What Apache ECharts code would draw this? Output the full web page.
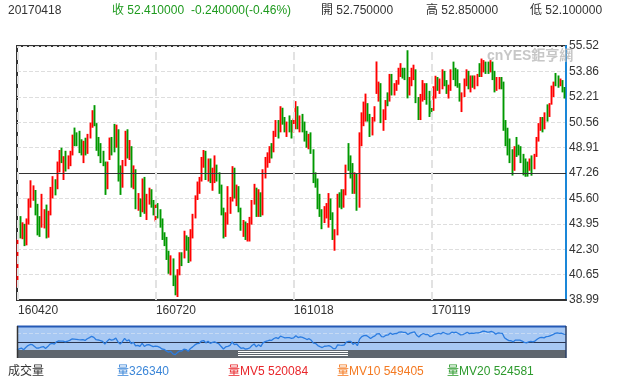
<!DOCTYPE html>
<html><head><meta charset="utf-8">
<script src="https://cdn.jsdelivr.net/npm/echarts@6/dist/echarts.min.js"></script>
<style>html,body{margin:0;padding:0;background:#fff}#c{width:619px;height:377px}</style>
</head><body><div id="c"></div><script>
// Trading days (category axis)
const dates = [
'160420','160421','160422','160425','160426','160427','160428','160429',
'160502','160503','160504','160505','160506','160509','160510','160511','160512','160513','160516','160517','160518','160519','160520','160523','160524','160525','160526','160527','160531',
'160601','160602','160603','160606','160607','160608','160609','160610','160613','160614','160615','160616','160617','160620','160621','160622','160623','160624','160627','160628','160629','160630',
'160701','160705','160706','160707','160708','160711','160712','160713','160714','160715','160718','160719','160720','160721','160722','160725','160726','160727','160728','160729',
'160801','160802','160803','160804','160805','160808','160809','160810','160811','160812','160815','160816','160817','160818','160819','160822','160823','160824','160825','160826','160829','160830','160831',
'160901','160902','160906','160907','160908','160909','160912','160913','160914','160915','160916','160919','160920','160921','160922','160923','160926','160927','160928','160929','160930',
'161003','161004','161005','161006','161007','161010','161011','161012','161013','161014','161017','161018','161019','161020','161021','161024','161025','161026','161027','161028','161031',
'161101','161102','161103','161104','161107','161108','161109','161110','161111','161114','161115','161116','161117','161118','161121','161122','161123','161125','161128','161129','161130',
'161201','161202','161205','161206','161207','161208','161209','161212','161213','161214','161215','161216','161219','161220','161221','161222','161223','161227','161228','161229','161230',
'170103','170104','170105','170106','170109','170110','170111','170112','170113','170117','170118','170119','170120','170123','170124','170125','170126','170127','170130','170131',
'170201','170202','170203','170206','170207','170208','170209','170210','170213','170214','170215','170216','170217','170221','170222','170223','170224','170227','170228',
'170301','170302','170303','170306','170307','170308','170309','170310','170313','170314','170315','170316','170317','170320','170321','170322','170323','170324','170327','170328','170329','170330','170331',
'170403','170404','170405','170406','170407','170410','170411','170412','170413','170417','170418'
];
// Daily candles: [open, close, low, high]
const candles = [
[40.10,42.63,39.83,42.97],[44.10,43.18,43.00,44.45],[43.25,43.73,42.95,44.05],[43.60,42.64,42.50,43.95],[42.70,44.04,42.55,44.30],[44.10,45.33,43.90,45.60],[45.20,46.03,45.00,46.78],[45.80,45.92,45.45,46.45],
[45.90,44.78,44.50,46.15],[44.70,43.65,43.20,45.25],[44.05,43.78,43.10,44.45],[43.85,44.32,43.70,45.90],[44.20,44.66,43.65,44.90],[44.60,43.44,43.00,45.20],[43.50,44.66,43.05,44.80],[44.70,46.23,44.50,46.35],[46.20,46.70,45.60,47.05],[46.80,46.21,45.80,46.85],[46.40,47.72,46.20,48.00],[47.75,48.31,47.30,48.75],[48.50,48.19,47.90,48.90],[47.70,48.16,46.80,48.35],[48.10,47.75,47.35,48.70],[47.80,48.08,47.50,48.40],[48.10,48.62,47.70,48.70],[48.60,49.56,48.40,49.75],[49.60,49.48,49.00,50.21],[49.50,49.33,49.00,49.90],[49.40,49.10,48.55,50.00],
[49.10,49.01,48.40,49.45],[48.90,49.17,47.90,49.35],[49.20,48.62,48.40,49.55],[48.70,49.69,48.50,49.80],[49.70,50.36,49.50,50.53],[50.50,51.23,50.20,51.34],[51.20,50.56,50.30,51.67],[50.40,49.07,48.70,50.50],[49.10,48.88,48.35,49.60],[48.70,48.49,47.90,49.20],[48.50,48.01,47.70,48.70],[47.80,46.21,45.83,48.00],[46.30,47.98,46.20,48.00],[48.20,49.37,48.10,49.56],[49.20,48.85,48.40,49.60],[49.90,49.13,48.60,50.45],[49.20,50.11,48.90,50.40],[50.00,47.64,46.70,50.10],[47.50,46.33,45.83,47.75],[46.40,47.85,46.30,48.10],[47.90,49.88,47.70,50.00],[49.80,48.33,48.20,50.10],
[48.40,48.99,48.10,49.40],[48.90,46.60,46.30,49.00],[46.60,47.43,46.20,47.75],[47.40,45.14,44.90,47.50],[45.20,45.41,44.80,45.95],[45.30,44.76,44.40,45.60],[44.80,46.80,44.70,46.90],[46.70,44.75,44.60,47.00],[44.80,45.68,44.20,45.90],[45.70,45.95,45.20,46.30],[45.90,45.24,45.00,46.20],[45.30,44.65,44.50,45.50],[44.60,44.94,44.10,45.20],[44.90,44.75,44.30,45.30],[44.80,44.19,43.70,44.90],[44.20,43.13,42.90,44.30],[43.20,42.92,42.50,43.40],[42.90,41.92,41.60,43.10],[41.90,41.14,40.70,42.20],[41.10,41.60,40.60,41.90],
[41.50,40.06,39.90,41.70],[40.10,39.51,39.30,40.60],[39.50,40.83,39.19,41.00],[40.80,41.93,40.60,42.10],[41.90,41.80,41.20,42.10],[41.90,43.02,41.70,43.50],[43.00,42.77,42.20,43.20],[42.80,41.71,41.40,43.10],[41.80,43.49,41.50,43.60],[43.40,44.49,43.00,44.60],[44.50,45.74,44.30,45.80],[45.70,46.58,45.50,46.70],[46.50,46.79,45.90,47.00],[46.80,48.22,46.70,48.30],[48.10,48.52,47.60,48.75],[48.50,47.05,46.80,48.70],[47.10,48.10,46.70,48.20],[48.00,46.77,46.60,48.20],[46.80,47.33,46.10,47.60],[47.30,47.64,46.60,48.40],[47.60,46.98,46.70,47.80],[47.00,46.35,45.90,47.30],[46.40,44.70,44.50,46.50],
[44.70,43.16,43.00,45.00],[43.20,44.44,43.10,44.70],[44.50,44.83,43.90,46.40],[44.90,45.50,44.60,45.70],[45.60,47.62,45.40,47.70],[47.50,45.88,45.60,47.60],[45.90,46.29,45.10,46.50],[46.30,44.90,44.70,46.40],[44.90,43.58,43.50,45.00],[43.60,43.91,43.10,44.20],[43.90,43.03,42.90,44.10],[43.10,43.30,42.80,44.00],[43.40,43.85,42.80,44.40],[44.00,45.34,43.90,45.50],[45.40,46.32,45.20,46.55],[46.20,44.48,44.40,46.30],[44.50,45.93,44.40,46.20],[45.90,44.67,44.40,46.00],[44.70,47.05,44.50,47.50],[47.10,47.83,46.90,48.30],[47.80,48.24,47.60,48.60],
[48.20,48.81,47.90,49.00],[48.80,48.69,48.20,49.20],[48.70,49.83,48.60,50.00],[49.80,50.44,49.60,50.70],[50.40,49.81,49.50,50.70],[50.00,51.35,49.90,51.60],[51.30,50.79,50.40,51.50],[50.80,50.18,49.90,50.90],[50.10,50.44,49.60,50.60],[50.50,50.35,49.90,51.00],[50.30,49.94,49.50,50.70],[50.00,50.29,49.90,50.80],[50.30,51.60,50.10,51.93],[51.50,50.43,50.10,51.60],[50.40,50.85,49.90,51.00],[50.90,50.52,49.90,51.10],[50.50,49.96,49.30,50.60],[49.90,49.18,48.90,50.00],[49.20,49.72,48.80,49.80],[49.70,48.70,48.50,49.90],[48.70,46.86,46.60,48.80],
[46.80,46.67,46.30,47.30],[46.60,45.34,44.90,46.90],[45.30,44.66,44.40,45.90],[44.70,44.07,43.60,44.90],[44.20,44.89,44.00,45.10],[44.90,44.98,44.30,45.30],[44.90,45.27,43.70,45.95],[45.30,44.66,44.20,45.60],[44.60,43.41,42.90,44.70],[43.20,43.32,42.20,43.60],[43.30,45.81,43.20,45.90],[45.80,45.57,45.00,46.00],[45.60,45.42,44.90,46.20],[45.40,45.69,45.00,46.20],[45.90,47.49,45.80,47.80],[48.40,48.03,47.40,49.20],[48.30,47.96,46.90,48.40],[47.80,46.06,45.90,47.90],[46.10,47.08,45.90,47.30],[47.00,45.23,44.80,47.20],[45.30,49.44,45.00,49.90],
[49.40,51.06,49.00,51.20],[51.00,51.68,50.30,51.90],[51.30,51.79,50.60,52.42],[51.70,50.93,50.60,51.80],[50.90,49.77,49.60,51.10],[49.80,50.84,49.70,50.90],[50.90,51.50,50.60,51.60],[52.60,52.83,52.40,54.51],[52.80,52.98,51.90,53.20],[53.00,51.04,50.50,53.10],[50.30,50.90,50.00,51.40],[50.90,51.90,50.70,52.00],[52.20,52.12,51.60,52.50],[52.20,53.30,51.90,53.70],[53.40,52.49,52.30,53.70],[52.50,52.95,52.30,53.10],[52.90,53.02,52.60,53.30],[53.10,53.90,53.00,54.10],[53.90,54.06,53.50,54.40],[54.00,53.77,53.40,54.10],[53.80,53.72,53.30,54.10],
[54.20,52.33,52.11,55.24],[52.40,53.26,52.30,53.50],[53.30,53.76,52.90,54.10],[53.70,53.99,53.30,54.30],[53.90,51.96,51.80,54.00],[52.00,50.82,50.70,52.20],[50.90,52.25,50.70,52.40],[52.30,53.01,51.90,53.30],[52.20,52.37,52.00,53.10],[52.90,52.48,51.70,53.10],[52.50,51.08,50.90,52.60],[51.75,51.37,51.10,51.95],[51.40,52.42,51.30,52.90],[52.40,52.75,52.10,53.58],[53.40,53.18,52.60,53.50],[52.60,52.75,52.40,53.40],[52.80,53.78,52.70,54.00],[53.80,53.17,52.90,53.90],[53.20,52.63,52.40,53.30],[52.60,52.81,52.10,53.00],
[52.80,53.88,52.60,54.00],[54.20,53.54,53.30,54.50],[54.00,53.83,52.90,54.10],[53.80,53.01,52.80,54.00],[53.00,52.17,51.90,53.10],[52.10,52.34,51.22,52.50],[52.40,53.00,52.20,53.40],[53.00,53.86,52.90,54.00],[53.80,52.93,52.70,53.90],[52.90,53.20,52.50,53.60],[53.30,53.11,52.80,53.60],[53.10,53.36,52.70,53.60],[53.30,53.40,52.90,53.70],[54.30,53.70,53.50,54.40],[53.60,54.45,53.50,54.70],[53.90,54.45,53.80,54.60],[54.40,53.99,53.70,54.50],[54.40,53.95,53.70,54.50],[53.90,54.40,53.80,54.60],
[54.40,53.83,53.30,54.50],[53.80,52.61,52.50,53.90],[52.70,53.33,52.60,53.50],[53.00,53.20,52.70,53.50],[53.30,53.14,52.70,53.50],[53.10,50.28,50.00,53.20],[50.30,49.28,49.00,50.70],[49.90,48.49,48.40,50.20],[49.00,48.40,47.90,49.50],[48.30,47.72,47.09,48.80],[47.70,48.86,47.40,49.00],[49.00,48.75,48.30,49.60],[49.00,48.78,48.40,49.10],[48.80,48.22,47.90,49.00],[48.30,47.34,47.10,48.50],[47.40,47.04,47.01,48.20],[47.90,47.70,47.02,48.00],[47.60,47.97,47.40,48.20],[48.00,47.73,47.08,48.40],[47.70,48.37,47.50,48.50],[48.40,49.51,48.30,49.60],[49.50,50.35,49.30,50.50],[50.40,50.60,50.00,50.90],
[50.60,50.24,49.90,50.90],[50.30,51.03,50.10,51.20],[51.40,51.15,50.60,51.72],[51.10,51.70,50.90,51.80],[51.80,52.24,51.70,52.94],[52.30,53.08,52.20,53.20],[53.60,53.40,52.90,53.76],[53.40,53.11,52.80,53.60],[53.00,53.18,52.90,53.40],[53.20,52.65,52.50,53.30],[52.75,52.41,52.10,52.85]
];
// Axis tick labels shown on the category axis
const tickLabels = ['160420','160720','161018','170119'];
// Price axis range and step
const priceMin = 38.9945, priceMax = 55.5165, priceStep = 1.6522;
const refLevel = 47.2555;
// Navigator axis range and guide
const navMin = 37.4, navMax = 57.8, navGuide = 52.9;
// Header texts
const headerTexts = ['20170418','收 52.410000','-0.240000(-0.46%)','開 52.750000','高 52.850000','低 52.100000'];
// Bottom legend texts
const legendTexts = ['成交量','量326340','量MV5 520084','量MV10 549405','量MV20 524581'];

const FONT = '"Liberation Sans", "Noto Sans CJK TC", sans-serif';
const closes = candles.map(r => r[1]);
const chart = echarts.init(document.getElementById('c'));

const headerX = [8, 112, 191, 321, 426, 530];
const headerColor = ['#333', '#1e9a1e', '#1e9a1e', '#333', '#333', '#333'];
const legendX = [8, 117, 228, 337, 447];
const legendColor = ['#333', '#3b86d8', '#e8262b', '#f47a22', '#2d9a2d'];

const graphic = [];
headerTexts.forEach((t, i) => graphic.push({type:'text', x:headerX[i], y:11, silent:true,
  style:{text:t, fill:headerColor[i], font:'12px ' + FONT, verticalAlign:'middle'}}));
legendTexts.forEach((t, i) => graphic.push({type:'text', x:legendX[i], y:372, silent:true,
  style:{text:t, fill:legendColor[i], font:'12px ' + FONT, verticalAlign:'middle'}}));
graphic.push({type:'text', x:487, y:56, silent:true, z:10,
  style:{text:'cnYES鉅亨網', fill:'rgba(185,185,185,0.8)', font:'bold 14px ' + FONT, verticalAlign:'middle'}});
// navigator decorations
graphic.push({type:'rect', z:0, silent:true, shape:{x:17, y:326, width:549, height:24}, style:{fill:'#a7c8f3'}});
graphic.push({type:'rect', z:0, silent:true, shape:{x:17, y:350, width:549, height:8}, style:{fill:'#5f666e'}});
[351.5, 353.5, 355.5].forEach(y => graphic.push({type:'line', z:1, silent:true, shape:{x1:238, y1:y, x2:348, y2:y}, style:{stroke:'#ffffff', lineWidth:1}}));
graphic.push({type:'line', z:10, silent:true, shape:{x1:17, y1:326.5, x2:566, y2:326.5}, style:{stroke:'#2459b5', lineWidth:2}});
graphic.push({type:'line', z:10, silent:true, shape:{x1:17.5, y1:326, x2:17.5, y2:358}, style:{stroke:'#333', lineWidth:1.5}});
graphic.push({type:'line', z:10, silent:true, shape:{x1:566, y1:326, x2:566, y2:358}, style:{stroke:'#2a3f66', lineWidth:1.5}});

const option = {
  animation:false,
  textStyle:{fontFamily:FONT},
  grid:[
    {left:17, top:46, width:549, height:254, show:true, borderColor:'#333', borderWidth:2},
    {left:17, top:326, width:549, height:32, show:false}
  ],
  xAxis:[
    {type:'category', gridIndex:0, data:dates, boundaryGap:true,
     axisLine:{show:true, lineStyle:{color:'#333', width:2}}, axisTick:{show:false},
     axisLabel:{interval:62, align:'left', color:'#333', fontSize:12, margin:5, fontFamily:FONT},
     splitLine:{show:false}},
    {type:'category', gridIndex:1, data:dates, boundaryGap:false, show:false}
  ],
  yAxis:[
    {type:'value', gridIndex:0, position:'right', min:priceMin, max:priceMax, interval:priceStep, scale:true,
     axisLine:{show:true, lineStyle:{color:'#1a87d8', width:2}}, axisTick:{show:false},
     axisLabel:{color:'#333', fontSize:12, margin:3, fontFamily:FONT, padding:[0,0,6,0], formatter:v => v.toFixed(2)},
     splitLine:{show:true, lineStyle:{color:'#dedede', type:'dashed', width:1}}},
    {type:'value', gridIndex:1, min:navMin, max:navMax, show:false, scale:true}
  ],
  series:[
    {type:'candlestick', xAxisIndex:0, yAxisIndex:0, data:candles, barWidth:0.6,
     itemStyle:{color:'#ff0000', color0:'#009900', borderColor:'#ff0000', borderColor0:'#009900', borderWidth:1.9},
     markLine:{silent:true, symbol:['none','none'], label:{show:false}, animation:false,
       data:[{yAxis:refLevel, lineStyle:{color:'#333', type:'solid', width:1.2}}]
         .concat(tickLabels.map(t => ({xAxis:t, lineStyle:{color:'#e2e2e2', type:'dashed', width:2}})))}},
    {type:'line', xAxisIndex:1, yAxisIndex:1, data:closes, symbol:'none', z:5,
     lineStyle:{color:'#2b7ce0', width:1.3},
     markLine:{silent:true, symbol:['none','none'], label:{show:false}, animation:false,
       data:[{yAxis:refLevel, lineStyle:{color:'#2a3550', type:'solid', width:1.2}},
             {yAxis:navGuide, lineStyle:{color:'#c6daf4', type:'dashed', width:1}}]}}
  ],
  graphic:graphic
};
chart.setOption(option);
</script></body></html>
